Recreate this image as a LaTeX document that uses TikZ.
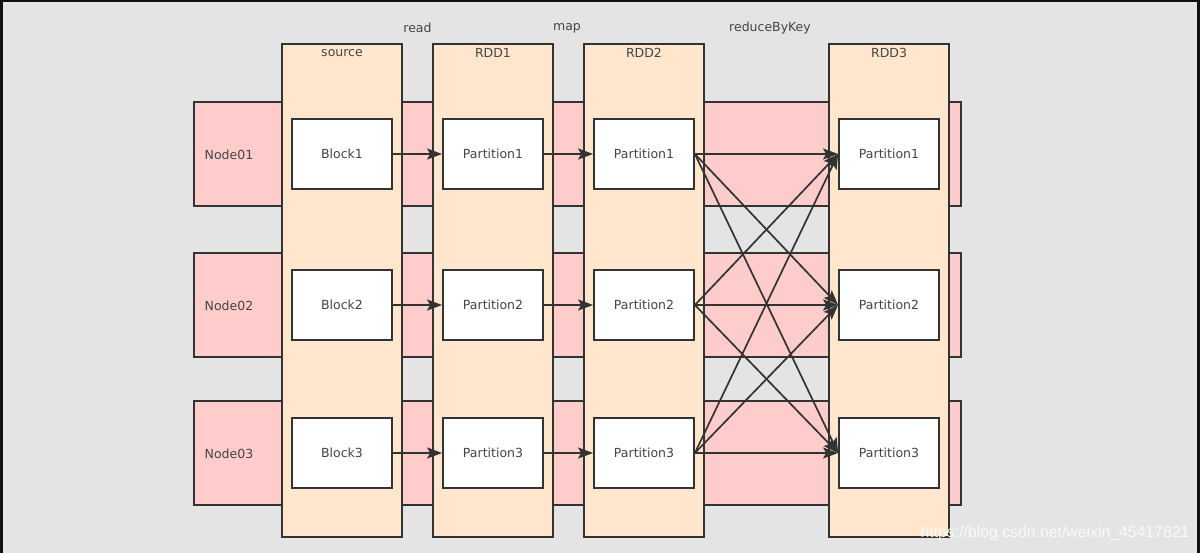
\documentclass[tikz,border=0pt]{standalone}
\usepackage{fontspec}
\setmainfont{DejaVu Sans}
\newfontfamily\markfont{Liberation Sans}
\usepackage{tikz}
\usetikzlibrary{positioning}
\usetikzlibrary{arrows.meta}

\definecolor{bandpink}{HTML}{FFCCCC}
\definecolor{colorange}{HTML}{FFE6CC}
\definecolor{edgegray}{HTML}{333333}
\definecolor{textgray}{HTML}{444444}
\definecolor{bggray}{HTML}{E4E4E4}
\definecolor{framedark}{HTML}{111111}

\begin{document}
\begin{tikzpicture}[x=1pt,y=-1pt,
  band/.style={draw=edgegray, fill=bandpink, line width=1.8pt, minimum width=767pt, minimum height=104pt, inner sep=0pt},
  column/.style={draw=edgegray, fill=colorange, line width=1.8pt, minimum width=120pt, minimum height=493pt, inner sep=0pt},
  part/.style={draw=edgegray, fill=white, line width=1.8pt, minimum width=100pt, minimum height=70pt, inner sep=0pt, text=textgray, font=\fontsize{12.5}{14}\selectfont},
  caption/.style={text=textgray, inner sep=0pt, font=\fontsize{12.5}{14}\selectfont},
  flow/.style={draw=edgegray, line width=1.7pt, -{Stealth[length=15pt,width=11pt,inset=3pt]}}
]

% background and frame
\fill[framedark] (0,0) rectangle (1200,553);
\fill[bggray] (3,2) rectangle (1197,553);
\useasboundingbox (0,0) rectangle (1200,553);

% one band for each machine
\node[band] (node01) at (577.5,154) {};
\node[band] (node02) at (577.5,305) {};
\node[band] (node03) at (577.5,453) {};
\node[caption] (node01t) at (229,155) {Node01};
\node[caption] (node02t) at (229,306) {Node02};
\node[caption] (node03t) at (229,454) {Node03};

% the datasets
\node[column] (src) at (342,290.5) {};
\node[column] (rdd1) at (493,290.5) {};
\node[column] (rdd2) at (644,290.5) {};
\node[column] (rdd3) at (889,290.5) {};
\node[caption] (srct) at (342,53) {source};
\node[caption] (rdd1t) at (493,53) {RDD1};
\node[caption] (rdd2t) at (644,53) {RDD2};
\node[caption] (rdd3t) at (889,53) {RDD3};

% operators
\node[caption] (readt) at (417.5,28) {read};
\node[caption] (mapt) at (567,28) {map};
\node[caption] (reducet) at (770,28) {reduceByKey};

% blocks and partitions
\foreach \i/\y in {1/154,2/305,3/453}{
  \node[part] (blk\i) at (342,\y) {Block\i};
  \node[part] (pa\i) at (493,\y) {Partition\i};
  \node[part] (pb\i) at (644,\y) {Partition\i};
  \node[part] (pc\i) at (889,\y) {Partition\i};
}

\foreach \i in {1,2,3}{
  \draw[flow] (blk\i.east) -- (pa\i.west);
  \draw[flow] (pa\i.east) -- (pb\i.west);
}
% shuffle
\foreach \i in {1,2,3}
  \foreach \j in {1,2,3}
    \draw[flow] (pb\i.east) -- (pc\j.west);

\node[text=white, opacity=0.85, inner sep=0pt, font=\markfont\fontsize{15.8}{18}\selectfont] (mark) at (1055,533) {https://blog.csdn.net/weixin\_45417821};

\end{tikzpicture}
\end{document}
